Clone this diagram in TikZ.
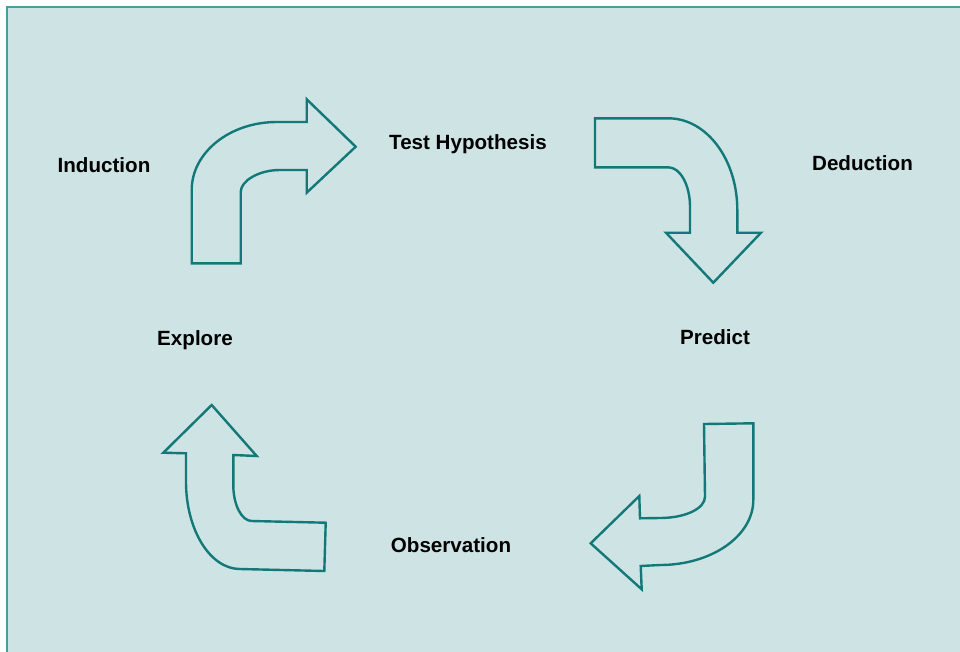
\documentclass[tikz,border=0pt]{standalone}
\usepackage{fontspec}
\setmainfont{Liberation Sans}
\definecolor{bgc}{HTML}{CEE3E4}
\definecolor{framec}{HTML}{4F9B9B}
\definecolor{arrowc}{HTML}{137878}
\begin{document}
\begin{tikzpicture}[x=1pt,y=-1pt,
  bentarrow/.style={draw=arrowc,line width=2.4pt,line join=miter},
  lbl/.style={font=\fontsize{20.6}{24}\selectfont\bfseries,anchor=base,inner sep=0pt}]
\useasboundingbox (0,0) rectangle (960,651);
\clip (0,0) rectangle (960,651);
\fill[white] (0,0) rectangle (960,651);
\draw[fill=bgc,draw=framec,line width=2pt] (7,7) rectangle (964,656);
% Induction arrow
\draw[bentarrow] (191.7,263.3) -- (240.7,263.3) -- (240.7,192)
  .. controls (240.7,181) and (258.5,170) .. (280,170) -- (306.7,170) -- (306.7,192.7)
  -- (355.7,146.7) -- (306.7,99.3) -- (306.7,122) -- (276.7,122)
  .. controls (229.8,122) and (191.7,152.5) .. (191.7,190) -- cycle;
% Deduction arrow
\draw[bentarrow] (595,118.3) -- (668.3,118.3)
  .. controls (706.4,118.3) and (737.3,159.2) .. (737.3,210) -- (737.3,232.7)
  -- (761,232.7) -- (713.3,282.7) -- (666,232.7) -- (690,232.7) -- (690,206.7)
  .. controls (690,185.2) and (680.3,167.3) .. (668.3,167.3) -- (595,167.3) -- cycle;
% Observation arrow
\draw[bentarrow] (704,424) -- (753.3,423.3) -- (753.3,500)
  .. controls (753.3,536) and (711.5,565) .. (660,565) -- (640.7,566) -- (641.7,589.3)
  -- (590.7,543.3) -- (639.3,496) -- (640,518.3) -- (660,518)
  .. controls (685,518) and (705,508.7) .. (705,496.7) -- cycle;
% Explore arrow
\draw[bentarrow] (211.7,405) -- (256.7,456) -- (233.3,455) -- (233.3,485)
  .. controls (233.3,505) and (241.7,521) .. (251.7,521) -- (325.7,522.7) -- (324.3,571)
  -- (240,569) .. controls (210,569) and (186,529.7) .. (186,481.7) -- (186,453.3)
  -- (163.3,452.7) -- cycle;
% labels
\node[lbl] (ind) at (104,172) {Induction};
\node[lbl] (test) at (468,149.5) {Test Hypothesis};
\node[lbl] (ded) at (862.5,170) {Deduction};
\node[lbl] (pred) at (715,344) {Predict};
\node[lbl] (expl) at (195,345) {Explore};
\node[lbl] (obs) at (451,552) {Observation};
\end{tikzpicture}
\end{document}
